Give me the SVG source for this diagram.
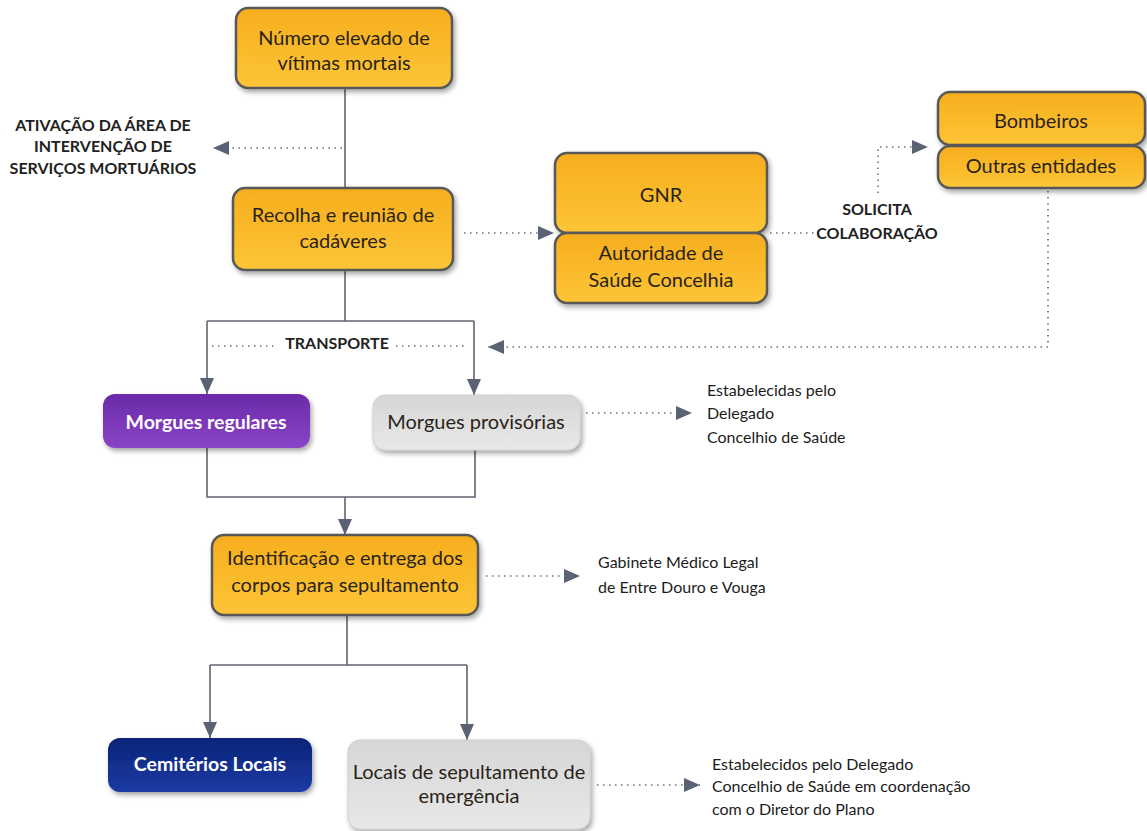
<svg xmlns="http://www.w3.org/2000/svg" width="1147" height="831" viewBox="0 0 1147 831">
<defs>
<linearGradient id="gOr" x1="0" y1="0" x2="0" y2="1"><stop offset="0" stop-color="#F6AE1E"/><stop offset="1" stop-color="#FDC537"/></linearGradient>
<linearGradient id="gGr" x1="0" y1="0" x2="0" y2="1"><stop offset="0" stop-color="#D6D6D6"/><stop offset="1" stop-color="#E8E8E8"/></linearGradient>
<linearGradient id="gPu" x1="0" y1="0" x2="0" y2="1"><stop offset="0" stop-color="#6A2AA8"/><stop offset="1" stop-color="#8A44C6"/></linearGradient>
<linearGradient id="gBl" x1="0" y1="0" x2="0" y2="1"><stop offset="0" stop-color="#0A2378"/><stop offset="1" stop-color="#1B3BA3"/></linearGradient>
<filter id="sh" x="-10%" y="-10%" width="125%" height="135%"><feDropShadow dx="2" dy="3" stdDeviation="2.5" flood-color="#000" flood-opacity="0.35"/></filter>
<marker id="arr" viewBox="0 0 16 14" refX="16" refY="7" markerWidth="16" markerHeight="14" orient="auto" markerUnits="userSpaceOnUse"><path d="M0,0 L16,7 L0,14 z" fill="#5B6274"/></marker>
<style>
.or{fill:url(#gOr);stroke:#595959;stroke-width:2.5;filter:url(#sh)}
.gr{fill:url(#gGr);stroke:#CFCFCF;stroke-width:1;filter:url(#sh)}
.pu{fill:url(#gPu);filter:url(#sh)}
.bl{fill:url(#gBl);filter:url(#sh)}
.t{font-family:Lato,"Liberation Sans",sans-serif;font-size:20px;fill:#2A2418;text-anchor:middle}
.tw{font-family:Lato,"Liberation Sans",sans-serif;font-size:19.5px;font-weight:bold;fill:#FFFFFF;text-anchor:middle}
.lb{font-family:Lato,"Liberation Sans",sans-serif;font-size:16px;font-weight:bold;fill:#222;text-anchor:middle}
.sm{font-family:Lato,"Liberation Sans",sans-serif;font-size:16px;fill:#1C1C1C}
.ln{fill:none;stroke:#5F6470;stroke-width:1.6}
.dt{fill:none;stroke:#6B6F7D;stroke-width:1.6;stroke-dasharray:1.5 4.5}
</style>
</defs>
<rect width="1147" height="831" fill="#FFFFFF"/>

<g id="connectors">
<path class="ln" d="M345,88 V188"/>
<path class="dt" d="M342,148 H213" marker-end="url(#arr)"/>
<path class="dt" d="M464,233 H554" marker-end="url(#arr)"/>
<path class="dt" d="M770,233 H816"/>
<path class="dt" d="M878,193 V147 H928" marker-end="url(#arr)"/>
<path class="dt" d="M1048,191 V347 H488" marker-end="url(#arr)"/>
<path class="ln" d="M345,270 V321"/>
<path class="ln" d="M207,321 H474"/>
<path class="ln" d="M207,321 V394" marker-end="url(#arr)"/>
<path class="ln" d="M474,321 V395" marker-end="url(#arr)"/>
<path class="dt" d="M212,346 H276"/>
<path class="dt" d="M396,346 H468"/>
<path class="ln" d="M207,448 V497 H475 V450"/>
<path class="ln" d="M345,497 V535" marker-end="url(#arr)"/>
<path class="dt" d="M586,413 H692" marker-end="url(#arr)"/>
<path class="dt" d="M486,576 H580" marker-end="url(#arr)"/>
<path class="ln" d="M347,615 V665"/>
<path class="ln" d="M210,665 H467"/>
<path class="ln" d="M210,665 V738" marker-end="url(#arr)"/>
<path class="ln" d="M467,665 V740" marker-end="url(#arr)"/>
<path class="dt" d="M597,785 H700" marker-end="url(#arr)"/>
</g>

<g id="n-numero">
<rect class="or" x="236" y="8" width="216" height="80" rx="12"/>
<text class="t" x="344" y="45">Número elevado de</text>
<text class="t" x="344" y="70">vítimas mortais</text>
</g>

<g id="l-ativacao">
<text class="lb" x="103" y="131">ATIVAÇÃO DA ÁREA DE</text>
<text class="lb" x="103" y="152">INTERVENÇÃO DE</text>
<text class="lb" x="103" y="174">SERVIÇOS MORTUÁRIOS</text>
</g>

<g id="n-recolha">
<rect class="or" x="233" y="188" width="220" height="82" rx="12"/>
<text class="t" x="343" y="222">Recolha e reunião de</text>
<text class="t" x="343" y="248">cadáveres</text>
</g>

<g id="n-gnr">
<rect class="or" x="555" y="153" width="212" height="80" rx="12"/>
<text class="t" x="661" y="202">GNR</text>
</g>

<g id="n-autoridade">
<rect class="or" x="555" y="233" width="212" height="70" rx="12"/>
<text class="t" x="661" y="260">Autoridade de</text>
<text class="t" x="661" y="287">Saúde Concelhia</text>
</g>

<g id="l-solicita">
<text class="lb" x="877" y="215">SOLICITA</text>
<text class="lb" x="877" y="239">COLABORAÇÃO</text>
</g>

<g id="n-bombeiros">
<rect class="or" x="938" y="92" width="207" height="53" rx="12"/>
<text class="t" x="1041" y="128">Bombeiros</text>
</g>

<g id="n-outras">
<rect class="or" x="938" y="146" width="207" height="42" rx="12"/>
<text class="t" x="1041" y="173">Outras entidades</text>
</g>

<g id="l-transporte">
<text class="lb" x="337" y="349">TRANSPORTE</text>
</g>

<g id="n-morgues-regulares">
<rect class="pu" x="103" y="394" width="207" height="54" rx="12"/>
<text class="tw" x="206" y="429">Morgues regulares</text>
</g>

<g id="n-morgues-provisorias">
<rect class="gr" x="373" y="395" width="207" height="55" rx="12"/>
<text class="t" x="476" y="429">Morgues provisórias</text>
</g>

<g id="l-estabelecidas">
<text class="sm" x="707" y="396">Estabelecidas pelo</text>
<text class="sm" x="707" y="419">Delegado</text>
<text class="sm" x="707" y="443">Concelhio de Saúde</text>
</g>

<g id="n-identificacao">
<rect class="or" x="212" y="535" width="266" height="80" rx="12"/>
<text class="t" x="345" y="565">Identificação e entrega dos</text>
<text class="t" x="345" y="592">corpos para sepultamento</text>
</g>

<g id="l-gabinete">
<text class="sm" x="598" y="568">Gabinete Médico Legal</text>
<text class="sm" x="598" y="593">de Entre Douro e Vouga</text>
</g>

<g id="n-cemiterios">
<rect class="bl" x="108" y="738" width="204" height="54" rx="12"/>
<text class="tw" x="210" y="771">Cemitérios Locais</text>
</g>

<g id="n-locais">
<rect class="gr" x="348" y="740" width="242" height="89" rx="12"/>
<text class="t" x="469" y="779">Locais de sepultamento de</text>
<text class="t" x="469" y="803">emergência</text>
</g>

<g id="l-estabelecidos">
<text class="sm" x="712" y="770">Estabelecidos pelo Delegado</text>
<text class="sm" x="712" y="792">Concelhio de Saúde em coordenação</text>
<text class="sm" x="712" y="815">com o Diretor do Plano</text>
</g>
</svg>
